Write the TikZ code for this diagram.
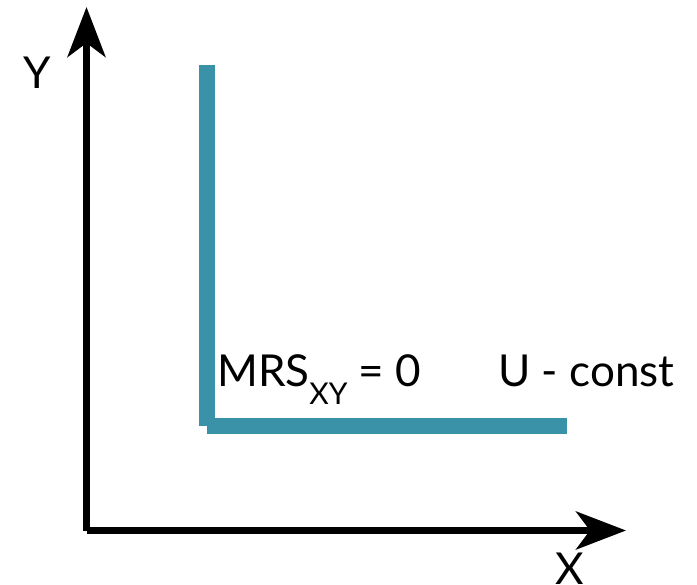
\documentclass[tikz,border=0pt]{standalone}
\usepackage{fontspec}
\setmainfont{Lato}
\usetikzlibrary{
	arrows.meta,
	positioning
}
\definecolor{CurveTeal}{RGB}{58,146,168}

\begin{document}
\begin{tikzpicture}[x=1pt, y=-1pt,
		axis/.style={line width=7pt, -{Stealth[length=50pt, width=38pt, inset=14pt]}},
		curve/.style={line width=16pt, CurveTeal},
		lbl/.style={font=\fontsize{44}{50}\selectfont, inner sep=0pt}]
			\useasboundingbox (0,0) rectangle (697,585);
			
			% axes
			\coordinate (O) at (86.5,530.5);
			\coordinate (Ytop) at (86.5,7);
			\coordinate (Xend) at (626,530.5);
			\draw[axis] (86.5,531) -- (Ytop);
			\draw[axis] (O) -- (Xend);
			\node[lbl, anchor=base] (ylab) at (37,89) {Y};
			\node[lbl, anchor=base] (xlab) at (570,584) {X};
			
			% indifference curve (L-shaped)
			\coordinate (A) at (207,65);
			\coordinate (B) at (207,426);
			\coordinate (C) at (207,426);
			\coordinate (D) at (567,426);
			\draw[curve] (A) -- (B);
			\draw[curve] (C) -- (D);
			
			\node[lbl, anchor=base west] (mrs) at (217,387)
				{MRS\raisebox{-18pt}{\fontsize{30}{30}\selectfont XY} = 0};
			\node[lbl, anchor=base west] (ulab) at (498,387) {U - const};
		\end{tikzpicture}
\end{document}
